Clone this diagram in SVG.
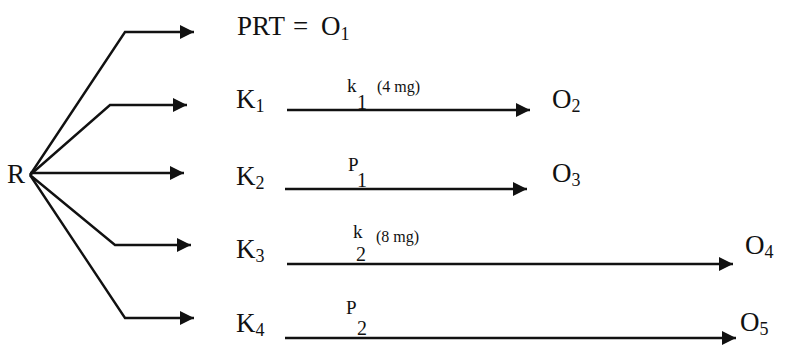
<svg xmlns="http://www.w3.org/2000/svg" width="787" height="351" viewBox="0 0 787 351">
<style>
.t{font-family:"Liberation Serif","Times New Roman",serif;fill:#111;}
.big{font-size:27px;}
.sub{font-size:18px;}
.lbl{font-size:19px;}
.dig{font-size:20px;}
.sm{font-size:16px;}
.c{fill:none;stroke:#111;stroke-width:2.4;marker-end:url(#ah);}
</style>
<defs>
<marker id="ah" markerUnits="userSpaceOnUse" markerWidth="16" markerHeight="14" refX="14" refY="7" orient="auto">
<path d="M0,0 L14,7 L0,14 Z" fill="#111"/>
</marker>
</defs>
<rect width="787" height="351" fill="#fff"/>
<g id="connectors">
<path class="c" d="M30,175 L125,32 L194,32"/>
<path class="c" d="M30,175 L110,105 L187,105"/>
<path class="c" d="M30,173 L184,173"/>
<path class="c" d="M30,175 L115,245 L191,245"/>
<path class="c" d="M30,175 L125,318 L194,318"/>
<path class="c" d="M287,110 L530,110"/>
<path class="c" d="M285,189 L527,189"/>
<path class="c" d="M287,264 L733,264"/>
<path class="c" d="M285,338 L736,338"/>
</g>
<g id="R"><text class="t big" x="7" y="183">R</text></g>
<g id="O1"><text class="t big" x="237" y="35">PRT<tspan x="293">=</tspan><tspan x="321">O</tspan><tspan class="sub" dy="5">1</tspan></text></g>
<g id="K1"><text class="t big" x="236" y="108">K<tspan class="sub" dy="4">1</tspan></text></g>
<g id="K2"><text class="t big" x="236" y="185">K<tspan class="sub" dy="4">2</tspan></text></g>
<g id="K3"><text class="t big" x="236" y="258">K<tspan class="sub" dy="4">3</tspan></text></g>
<g id="K4"><text class="t big" x="236" y="332">K<tspan class="sub" dy="4">4</tspan></text></g>
<g id="O2"><text class="t big" x="552" y="108">O<tspan class="sub" dy="4">2</tspan></text></g>
<g id="O3"><text class="t big" x="552" y="182">O<tspan class="sub" dy="4">3</tspan></text></g>
<g id="O4"><text class="t big" x="745" y="254">O<tspan class="sub" dy="4">4</tspan></text></g>
<g id="O5"><text class="t big" x="740" y="331">O<tspan class="sub" dy="4">5</tspan></text></g>
<g id="labels">
<text class="t lbl" x="347" y="92">k</text><text class="t dig" x="357" y="109">1</text><text class="t sm" x="377" y="92">(4 mg)</text>
<text class="t lbl" x="348" y="171">P</text><text class="t dig" x="357" y="187">1</text>
<text class="t lbl" x="353" y="238">k</text><text class="t dig" x="356" y="261">2</text><text class="t sm" x="376" y="242">(8 mg)</text>
<text class="t lbl" x="346" y="314">P</text><text class="t dig" x="357" y="335">2</text>
</g>
</svg>
